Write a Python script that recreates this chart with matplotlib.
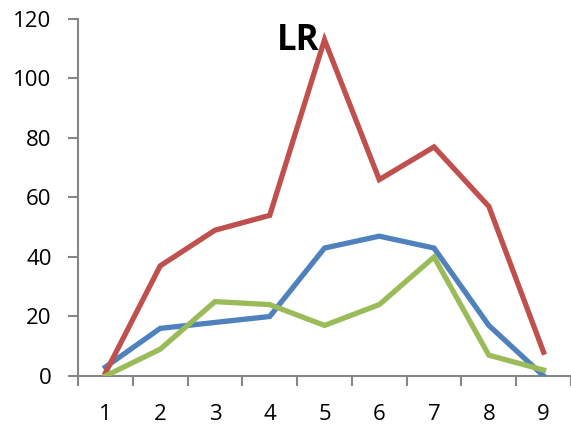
import matplotlib
matplotlib.use("Agg")
from matplotlib import pyplot as plt

categories = [1, 2, 3, 4, 5, 6, 7, 8, 9]
red_vals = [1, 37, 49, 54, 113, 66, 77, 57, 8]
blue_vals = [3, 16, 18, 20, 43, 47, 43, 17, 0]
green_vals = [0, 9, 25, 24, 17, 24, 40, 7, 2]
yticks = [0, 20, 40, 60, 80, 100, 120]

plt.rcParams['font.family'] = ['Open Sans', 'DejaVu Sans']

fig = plt.figure(figsize=(5.71, 4.25), dpi=100)
ax = fig.add_axes([0.1366, 0.1153, 0.8634, 0.84])

lw = 3.8
ax.plot(categories, blue_vals, color="#4F81BD", lw=lw, solid_joinstyle="miter")
ax.plot(categories, red_vals, color="#C0504D", lw=lw, solid_joinstyle="miter")
ax.plot(categories, green_vals, color="#9BBB59", lw=lw, solid_joinstyle="miter")

ax.set_xlim(0.5, 9.5)
ax.set_ylim(0, 120)
ax.set_yticks(yticks)
ax.set_xticks(categories)
ax.set_xticks([c + 0.5 for c in [0] + categories], minor=True)
ax.tick_params(axis="x", which="major", length=0, pad=20, labelsize=16)
ax.tick_params(axis="x", which="minor", length=7, width=1.5, color="#868686")
ax.tick_params(axis="y", length=7, width=1.5, color="#868686", pad=12, labelsize=16)

for s in ["top", "right"]:
    ax.spines[s].set_visible(False)
for s in ["left", "bottom"]:
    ax.spines[s].set_color("#868686")
    ax.spines[s].set_linewidth(1.5)
    ax.spines[s].set_zorder(0)

fig.text(0.522, 0.903, "LR", fontsize=25, fontweight="bold", ha="center", va="center")

fig.savefig("out.png", dpi=100)
